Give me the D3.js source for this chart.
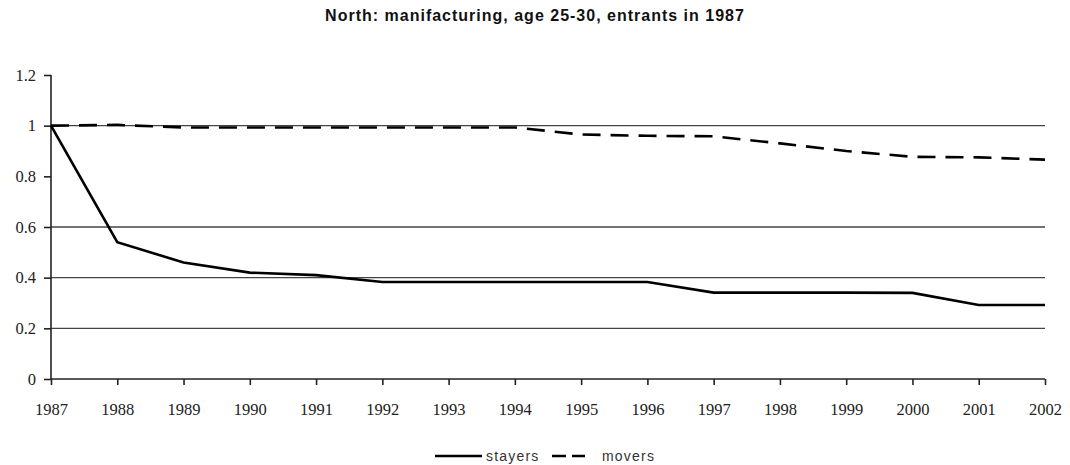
<!DOCTYPE html>
<html>
<head>
<meta charset="utf-8">
<script src="https://cdn.jsdelivr.net/npm/d3@7"></script>
<style>
  body { margin: 0; background: #fff; }
  #chart { width: 1070px; height: 465px; }
</style>
</head>
<body>
<div id="chart"></div>
<script>
const years = d3.range(1987, 2003);
const stayers = [1.0, 0.54, 0.46, 0.42, 0.41, 0.383, 0.383, 0.383, 0.383, 0.383, 0.341, 0.341, 0.341, 0.34, 0.292, 0.292];
const movers = [1.0, 1.003, 0.993, 0.993, 0.993, 0.993, 0.993, 0.993, 0.965, 0.96, 0.958, 0.93, 0.9, 0.877, 0.875, 0.866];
const yTicks = [0, 0.2, 0.4, 0.6, 0.8, 1, 1.2];
const gridValues = [0.2, 0.4, 0.6, 1];

const width = 1070, height = 465;
const margin = { left: 51, right: 25, top: 75, bottom: 86 };

const svg = d3.select('#chart')
    .append('svg')
    .attr('width', width)
    .attr('height', height);

const x = d3.scaleLinear()
    .domain([1987, 2002])
    .range([margin.left, width - margin.right]);

const y = d3.scaleLinear()
    .domain([0, 1.2])
    .range([height - margin.bottom, margin.top]);

// title
svg.append('text')
    .attr('x', 535)
    .attr('y', 21)
    .attr('text-anchor', 'middle')
    .style('font-family', 'Liberation Sans, Arial, sans-serif')
    .style('font-size', '16px')
    .style('letter-spacing', '1px')
    .style('font-weight', 'bold')
    .style('fill', '#111')
    .text('North: manifacturing, age 25-30, entrants in 1987');

// gridlines
svg.append('g')
    .selectAll('line')
    .data(gridValues)
    .join('line')
    .attr('x1', x(1987))
    .attr('x2', x(2002))
    .attr('y1', d => y(d))
    .attr('y2', d => y(d))
    .attr('stroke', '#444')
    .attr('stroke-width', 1.4);

// axes
const yAxis = svg.append('g')
    .attr('transform', `translate(${x(1987)},0)`)
    .call(d3.axisLeft(y).tickValues(yTicks).tickSize(7).tickPadding(8)
        .tickFormat(d => d === 0 || d === 1 ? d : d3.format('.1f')(d)));

const xAxis = svg.append('g')
    .attr('transform', `translate(0,${y(0)})`)
    .call(d3.axisBottom(x).tickValues(years).tickSize(6).tickPadding(18)
        .tickFormat(d3.format('d')));

[yAxis, xAxis].forEach(g => {
    g.select('.domain').attr('stroke', '#222').attr('stroke-width', 1.6);
    g.selectAll('.tick line').attr('stroke', '#222').attr('stroke-width', 1.6);
    g.selectAll('.tick text')
        .style('font-family', 'Liberation Serif, Times New Roman, serif')
        .style('font-size', '16.5px')
        .style('fill', '#222');
});
yAxis.select('.domain').attr('d', `M0,${y(1.2)}V${y(0)}`);
xAxis.select('.domain').attr('d', `M${x(1987)},0H${x(2002)}`);

// lines
const line = d3.line()
    .x((d, i) => x(years[i]))
    .y(d => y(d));

svg.append('path')
    .datum(stayers)
    .attr('d', line)
    .attr('fill', 'none')
    .attr('stroke', '#000')
    .attr('stroke-width', 2.6);

svg.append('path')
    .datum(movers)
    .attr('d', line)
    .attr('fill', 'none')
    .attr('stroke', '#000')
    .attr('stroke-width', 2.6)
    .attr('stroke-dasharray', '18,10');

// legend
const legend = svg.append('g')
    .attr('transform', 'translate(435,456)');

legend.append('line')
    .attr('x1', 0).attr('x2', 47)
    .attr('stroke', '#000').attr('stroke-width', 2.6);
legend.append('text')
    .attr('x', 51).attr('y', 5)
    .style('font-family', 'Liberation Sans, Arial, sans-serif')
    .style('font-size', '14px')
    .style('letter-spacing', '1.2px')
    .style('fill', '#333')
    .text('stayers');
legend.append('line')
    .attr('x1', 117).attr('x2', 150)
    .attr('stroke', '#000').attr('stroke-width', 2.6)
    .attr('stroke-dasharray', '14,6');
legend.append('text')
    .attr('x', 167).attr('y', 5)
    .style('font-family', 'Liberation Sans, Arial, sans-serif')
    .style('font-size', '14px')
    .style('letter-spacing', '1.2px')
    .style('fill', '#333')
    .text('movers');
</script>
</body>
</html>
